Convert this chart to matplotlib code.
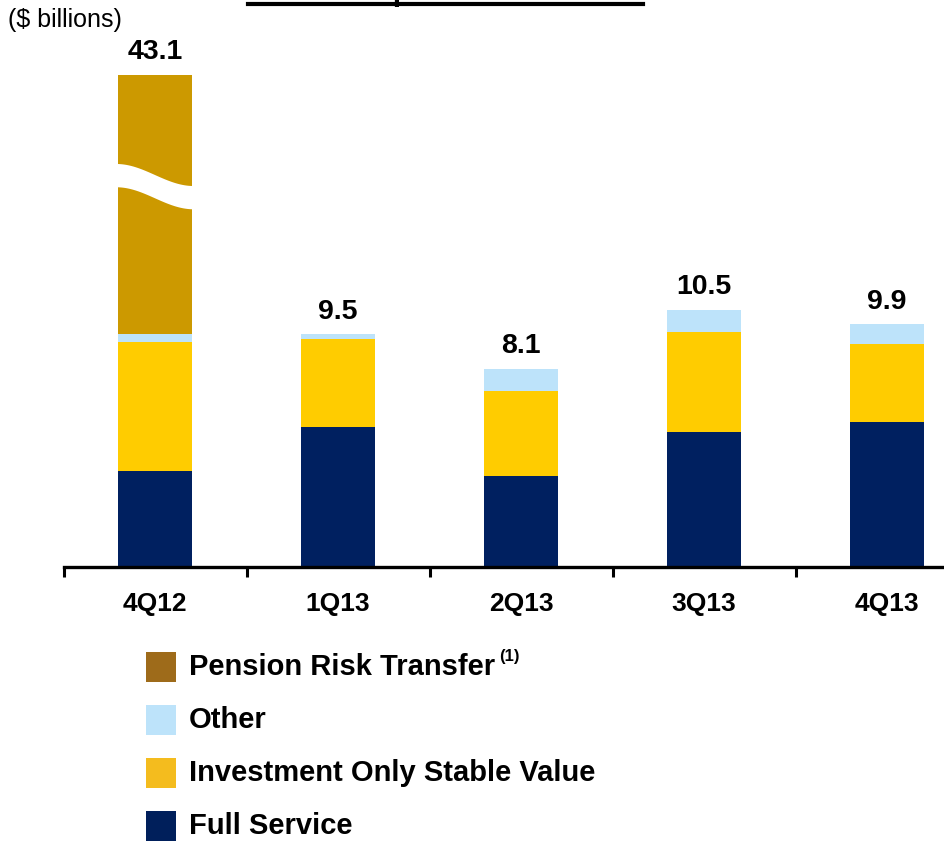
import numpy as np
import matplotlib
matplotlib.use("Agg")
import matplotlib.pyplot as plt
from matplotlib.lines import Line2D
from matplotlib.patches import Rectangle, Polygon

plt.rcParams['font.family'] = ['Liberation Sans', 'DejaVu Sans']

categories = ["4Q12", "1Q13", "2Q13", "3Q13", "4Q13"]
full_service = [3.9, 5.7, 3.7, 5.5, 5.9]
inv_only_sv = [5.3, 3.6, 3.5, 4.1, 3.2]
other = [0.3, 0.2, 0.9, 0.9, 0.8]
pension_rt = [33.6, 0.0, 0.0, 0.0, 0.0]
totals = [43.1, 9.5, 8.1, 10.5, 9.9]

series_names = ["Full Service", "Investment Only Stable Value", "Other", "Pension Risk Transfer"]
bar_colors = ["#002060", "#FFCC00", "#BDE3FA", "#CC9900"]
legend_colors = ["#001F5B", "#F4BC1E", "#BDE3FA", "#9E6B1A"]

W, H = 944, 843
fig = plt.figure(figsize=(W / 100, H / 100), dpi=100)

# axes: x boundaries at 63.5 px (-0.5) and 978.5 px (4.5); baseline at y=567 px
ymax = 22.0
px_per_unit = 24.5
ax_left = 63.5 / W
ax_w = 915 / W
ax_bottom = (H - 567) / H
ax_h = ymax * px_per_unit / H
ax = fig.add_axes([ax_left, ax_bottom, ax_w, ax_h])
ax.set_xlim(-0.5, 4.5)
ax.set_ylim(0, ymax)

display_cap = 20.08  # broken-axis display top for the tall bar
x = np.arange(len(categories))
bw = 0.404
bottom = np.zeros(len(categories))
for vals, col in zip([full_service, inv_only_sv, other, pension_rt], bar_colors):
    v = np.array(vals, dtype=float)
    shown = np.minimum(bottom + v, display_cap) - bottom
    shown = np.maximum(shown, 0)
    ax.bar(x, shown, bw, bottom=bottom, color=col, edgecolor='none', zorder=2)
    bottom = bottom + v

# break wave on the tall bar
i = 0
t = np.linspace(0, 1, 60)
xs = x[i] - bw / 2 - 0.01 + t * (bw + 0.02)
y_top = 16.45 - 0.9 * (1 - np.cos(np.pi * t)) / 2
y_bot = y_top - 0.95
poly = np.vstack([np.column_stack([xs, y_top]), np.column_stack([xs[::-1], y_bot[::-1]])])
ax.add_patch(Polygon(poly, closed=True, facecolor='white', edgecolor='none', zorder=3))

# total labels
for xi, tot in zip(x, totals):
    top = min(tot, display_cap)
    ax.annotate(f"{tot:.1f}", (xi, top), xytext=(0, 7), textcoords='offset points',
                ha='center', va='bottom', fontsize=20.5, fontweight='bold', color='black')

# axes styling
for s in ['top', 'right', 'left']:
    ax.spines[s].set_visible(False)
ax.spines['bottom'].set_linewidth(2.4)
ax.spines['bottom'].set_color('black')
ax.set_yticks([])
ax.set_xticks(np.arange(-0.5, 5.0, 1.0))
ax.set_xticklabels([])
ax.tick_params(axis='x', which='major', direction='out', length=7, width=2.2, color='black')
ax.set_xticks(x, minor=True)
ax.set_xticklabels(categories, minor=True, fontsize=19, fontweight='bold')
ax.tick_params(axis='x', which='minor', length=0, pad=18)

# unit label
fig.text(8 / W, 1 - 20 / H, "($ billions)", fontsize=18, ha='left', va='center')

# clipped title with underline (cut off at top edge, as in the source)
fig.text(445 / W, 1.0, "Gross Deposits and Sales", fontsize=22, fontweight='bold',
         ha='center', va='baseline')
fig.add_artist(Line2D([248 / W, 643 / W], [1 - 3.5 / H, 1 - 3.5 / H], color='black', lw=3,
                      transform=fig.transFigure))

# legend (manual)
leg_order = [3, 2, 1, 0]
y_centers = [667, 720, 773, 826]
sq = 30
for yc, k in zip(y_centers, leg_order):
    fig.add_artist(Rectangle((146 / W, 1 - (yc + sq / 2) / H), sq / W, sq / H,
                             facecolor=legend_colors[k], edgecolor='none',
                             transform=fig.transFigure))
    fig.text(189 / W, 1 - yc / H, series_names[k], fontsize=21,
             fontweight='bold', ha='left', va='center')
    if k == 3:
        fig.text(499 / W, 1 - 656 / H, "(1)", fontsize=12, fontweight='bold',
                 ha='left', va='center')

fig.savefig("out.png", dpi=100)
